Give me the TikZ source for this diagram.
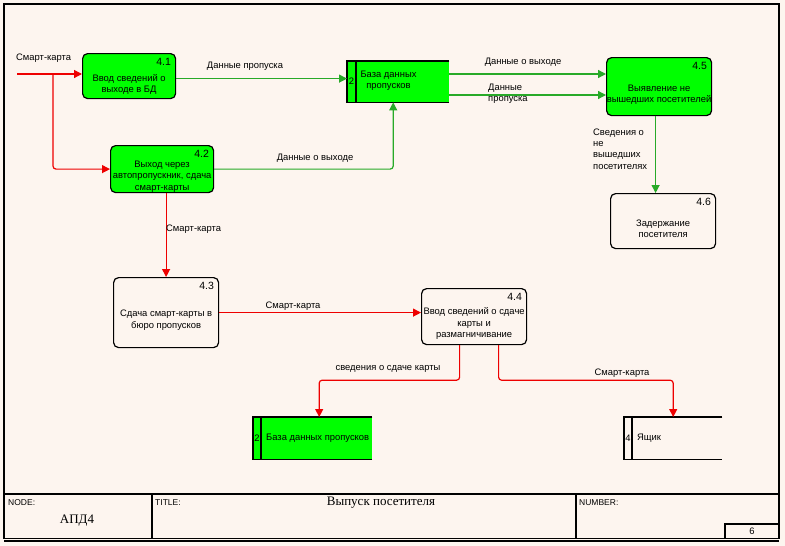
\documentclass[tikz,border=0pt]{standalone}
\usepackage{fontspec}
\setmainfont{Liberation Sans}
\newfontfamily\titlefont{Liberation Serif}
\usetikzlibrary{arrows.meta, positioning}
\definecolor{sheetbg}{RGB}{253, 245, 239}
\definecolor{procgreen}{RGB}{0, 255, 0}
\definecolor{flowgreen}{RGB}{40, 170, 40}
\definecolor{flowred}{RGB}{238, 0, 0}

\begin{document}
\begin{tikzpicture}[
    x=1pt, y=-1pt,
    font=\fontsize{9.4}{11.3}\selectfont,
    proc/.style={rectangle, draw, line width=1.2pt, rounded corners=5pt, anchor=north west, inner sep=0pt},
    ptext/.style={align=center, inner sep=0pt},
    num/.style={anchor=north east, inner sep=0pt, font=\fontsize{10.5}{11}\selectfont},
    store/.style={rectangle, anchor=north west, inner sep=0pt},
    storeline/.style={line width=1.2pt},
    lbl/.style={inner sep=0pt},
    redflow/.style={-{Triangle[length=8pt,width=8pt]}, line width=1.2pt, flowred, rounded corners=3pt},
    greenflow/.style={-{Triangle[length=8pt,width=8pt]}, line width=1.2pt, flowgreen, rounded corners=3pt},
    frame/.style={line width=1.2pt},
    tag/.style={anchor=west, inner sep=0pt, font=\fontsize{8.5}{9}\selectfont}
]

% sheet
\fill[sheetbg] (0,0) rectangle (785,546);
\draw[frame] (4,4) rectangle (779,538.5);
\draw[frame] (4,541) -- (779,541);
\draw[frame] (4,494) -- (779,494);
\draw[frame] (152,494) -- (152,538.5);
\draw[frame] (576,494) -- (576,538.5);
\draw[frame] (725,538.5) |- (779,524);

% processes
\node[proc, fill=procgreen, minimum width=93pt, minimum height=45pt] (p41) at (82,53) {};
\node[proc, fill=procgreen, minimum width=103pt, minimum height=47pt] (p42) at (110,145) {};
\node[proc, minimum width=105pt, minimum height=70pt] (p43) at (113,277) {};
\node[proc, minimum width=105pt, minimum height=56pt] (p44) at (421,288) {};
\node[proc, fill=procgreen, minimum width=105pt, minimum height=58pt] (p45) at (606,57) {};
\node[proc, minimum width=105pt, minimum height=55pt] (p46) at (610,193) {};

\node[ptext] (t41) at ([yshift=-8pt]p41.center) {Ввод сведений о\\выходе в БД};
\node[ptext] (t42) at ([yshift=-7.5pt]p42.center) {Выход через\\автопропускник, сдача\\смарт-карты};
\node[ptext] (t43) at ([yshift=-7.5pt]p43.center) {Сдача смарт-карты в\\бюро пропусков};
\node[ptext] (t44) at ([yshift=-7pt]p44.center) {Ввод сведений о сдаче\\карты и\\размагничивание};
\node[ptext] (t45) at ([yshift=-8pt]p45.center) {Выявление не\\вышедших посетителей};
\node[ptext] (t46) at ([yshift=-8pt]p46.center) {Задержание\\посетителя};

\node[num] (n41) at ([xshift=-5pt,yshift=-5pt]p41.north east) {4.1};
\node[num] (n42) at ([xshift=-5pt,yshift=-5pt]p42.north east) {4.2};
\node[num] (n43) at ([xshift=-5pt,yshift=-5pt]p43.north east) {4.3};
\node[num] (n44) at ([xshift=-5pt,yshift=-5pt]p44.north east) {4.4};
\node[num] (n45) at ([xshift=-5pt,yshift=-5pt]p45.north east) {4.5};
\node[num] (n46) at ([xshift=-5pt,yshift=-5pt]p46.north east) {4.6};

% data stores
\node[store, fill=procgreen, minimum width=102pt, minimum height=41pt] (dbT) at (347,61) {};
\node[store, fill=procgreen, minimum width=119pt, minimum height=42pt] (dbB) at (253,417) {};
\node[store, minimum width=98pt, minimum height=42pt] (box) at (624,417) {};

\draw[storeline] (dbT.north east) -- (dbT.north west) -- (dbT.south west) -- (dbT.south east);
\draw[storeline] ([xshift=9pt]dbT.north west) -- ([xshift=9pt]dbT.south west);
\draw[storeline] (dbB.north east) -- (dbB.north west) -- (dbB.south west) -- (dbB.south east);
\draw[storeline] ([xshift=8pt]dbB.north west) -- ([xshift=8pt]dbB.south west);
\draw[storeline] (box.north east) -- (box.north west) -- (box.south west) -- (box.south east);
\draw[storeline] ([xshift=8pt]box.north west) -- ([xshift=8pt]box.south west);

\node[lbl] (dbTnum) at (351.5,81.5) {2};
\node[lbl, align=center] (dbTtext) at (388.5,80.5) {База данных\\пропусков};
\node[lbl] (dbBnum) at (257,438) {2};
\node[lbl, anchor=west] (dbBtext) at (266,438) {База данных пропусков};
\node[lbl] (boxnum) at (628,438) {4};
\node[lbl, anchor=west] (boxtext) at (637,438) {Ящик};

% flows
\coordinate (ext) at (17,74);
\coordinate (split) at (53,74);
\draw[redflow] (ext) -- (ext -| p41.west);
\draw[redflow] (split) |- (p42.west);
\draw[greenflow] ([yshift=-2.5pt]p41.east) -- ([yshift=-2.5pt]p41.east -| dbT.west);
\draw[greenflow] (p42.east) -| ([xshift=-5pt]dbT.south);
\draw[greenflow] ([yshift=-13pt]dbT.north east) -- ([yshift=-13pt]dbT.north east -| p45.west);
\draw[greenflow] ([yshift=-34pt]dbT.north east) -- ([yshift=-34pt]dbT.north east -| p45.west);
\draw[greenflow] ([xshift=-3.5pt]p45.south) -- ([xshift=-3.5pt]p45.south |- p46.north);
\draw[redflow] (p43.north |- p42.south) -- (p43.north);
\draw[redflow] (p43.east) -- (p43.east -| p44.west);
\draw[redflow] ([xshift=-14.5pt]p44.south) -- ++(0,35) -| ([xshift=6.5pt]dbB.north);
\draw[redflow] ([xshift=24.5pt]p44.south) -- ++(0,35) -| (box.north);

% flow labels
\node[lbl, anchor=west] (lext) at (16,58) {Смарт-карта};
\node[lbl] (l1) at (245,66) {Данные пропуска};
\node[lbl] (l2) at (315,158) {Данные о выходе};
\node[lbl] (l3) at (523,62) {Данные о выходе};
\node[lbl, anchor=west, align=left] (l4) at (488,94) {Данные\\пропуска};
\node[lbl, anchor=west, align=left] (l5) at (593,149) {Сведения о\\не\\вышедших\\посетителях};
\node[lbl, anchor=west] (l6) at (166,229) {Смарт-карта};
\node[lbl] (l7) at (293,306) {Смарт-карта};
\node[lbl] (l8) at (388,369) {сведения о сдаче карты};
\node[lbl] (l9) at (622,373) {Смарт-карта};

% title block
\node[tag] (nodetag) at (8,503) {NODE:};
\node[tag] (titletag) at (155,503) {TITLE:};
\node[tag] (numtag) at (579,503) {NUMBER:};
\node[inner sep=0pt, font=\titlefont\fontsize{13}{14}\selectfont] (nodename) at (77,521) {АПД4};
\node[inner sep=0pt, font=\titlefont\fontsize{13}{14}\selectfont] (title) at (381,503) {Выпуск посетителя};
\node[inner sep=0pt] (pagenum) at (752,531) {6};

\end{tikzpicture}
\end{document}
